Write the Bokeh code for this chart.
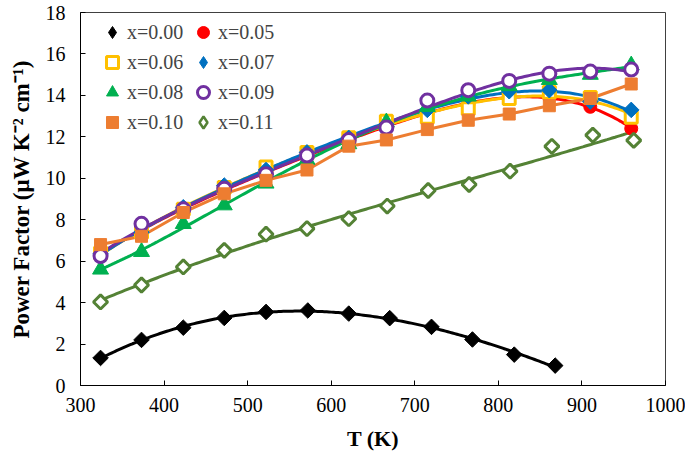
import numpy as np
from bokeh.plotting import figure
from bokeh.models import Range1d, FixedTicker, Legend, LegendItem
from bokeh.embed import file_html
from bokeh.resources import INLINE

# ---- data ----
T_000 = [324, 373, 423, 472, 522, 572, 621, 670, 720, 769, 819, 868]
pf_000 = [1.33, 2.20, 2.79, 3.26, 3.55, 3.62, 3.47, 3.25, 2.83, 2.22, 1.49, 0.96]

T_up = [324, 373, 423, 472, 522, 571, 621, 666, 715, 764, 813, 861, 910, 959]
pf_005 = [6.35, 7.50, 8.45, 9.45, 10.30, 11.15, 11.85, 12.50, 13.10, 13.55, 13.95, 13.90, 13.45, 12.40]
pf_006 = [6.40, 7.40, 8.50, 9.55, 10.55, 11.25, 11.95, 12.75, 12.95, 13.35, 13.85, 14.15, 13.90, 12.95]
pf_007 = [6.35, 7.40, 8.60, 9.65, 10.40, 11.25, 11.95, 12.60, 13.30, 13.95, 14.20, 14.25, 13.70, 13.30]
pf_008 = [5.60, 6.45, 7.80, 8.70, 9.75, 10.90, 11.65, 12.70, 13.45, 13.95, 14.45, 14.75, 15.00, 15.45]
pf_009 = [6.25, 7.80, 8.50, 9.50, 10.20, 11.10, 11.85, 12.45, 13.75, 14.25, 14.70, 15.05, 15.15, 15.25]
pf_010 = [6.80, 7.20, 8.35, 9.25, 9.90, 10.40, 11.55, 11.85, 12.35, 12.80, 13.10, 13.50, 13.85, 14.55]

T_011 = [324, 373, 423, 472, 522, 571, 621, 667, 716, 765, 814, 864, 913, 962]
pf_011 = [4.03, 4.85, 5.72, 6.52, 7.30, 7.57, 8.05, 8.66, 9.41, 9.70, 10.34, 11.54, 12.08, 11.83]

labels = ["x=0.00", "x=0.05", "x=0.06", "x=0.07", "x=0.08", "x=0.09", "x=0.10", "x=0.11"]
x_ticks = [300, 400, 500, 600, 700, 800, 900, 1000]
y_ticks = [0, 2, 4, 6, 8, 10, 12, 14, 16, 18]

FONT = "Liberation Serif"

p = figure(width=685, height=453, output_backend="svg", toolbar_location=None,
           x_range=Range1d(300, 1000), y_range=Range1d(0, 18),
           min_border_left=80, min_border_right=20, min_border_top=12, min_border_bottom=66)
p.xgrid.visible = False
p.ygrid.visible = False
p.outline_line_color = "#404040"
p.outline_line_width = 1
p.background_fill_color = "white"

for ax, ticks in ((p.xaxis, x_ticks), (p.yaxis, y_ticks)):
    ax.ticker = FixedTicker(ticks=ticks)
    ax.minor_tick_line_color = None
    ax.major_tick_in = 5
    ax.major_tick_out = 0
    ax.axis_line_color = "black"
    ax.major_tick_line_color = "black"
    ax.major_label_text_font = FONT
    ax.major_label_text_font_size = "20px"
    ax.major_label_text_color = "black"
    ax.axis_label_text_font = FONT
    ax.axis_label_text_font_size = "22px"
    ax.axis_label_text_font_style = "bold"
    ax.axis_label_text_color = "black"

p.yaxis.axis_label_text_font_size = "23px"
p.xaxis.axis_label = "T (K)"
p.yaxis.axis_label = "Power Factor (\u03bcW K\u207b\u00b2 cm\u207b\u00b9)"
p.xaxis.major_label_standoff = 12
p.yaxis.major_label_standoff = 15
p.xaxis.axis_label_standoff = 11
p.yaxis.axis_label_standoff = 9


def trend(T, y, deg):
    t = np.asarray(T, float)
    c = np.polyfit((t - 600) / 300, np.asarray(y, float), deg)
    tt = np.linspace(t[0], t[-1], 200)
    return tt, np.polyval(c, (tt - 600) / 300)


# (T, values, colour, marker, fill, size, angle, trend degree)
series = [
    (T_000, pf_000, "black", "square", "black", 11, np.pi / 4, 3),
    (T_up, pf_005, "#FF0000", "circle", "#FF0000", 13, 0, 4),
    (T_up, pf_006, "#FFC000", "square", "white", 12, 0, 4),
    (T_up, pf_007, "#0070C0", "square", "#0070C0", 11, np.pi / 4, 4),
    (T_up, pf_008, "#00B050", "triangle", "#00B050", 16, 0, 4),
    (T_up, pf_009, "#7030A0", "circle", "white", 13, 0, 4),
    (T_up, pf_010, "#ED7D31", "square", "#ED7D31", 12, 0, 0),
    (T_011, pf_011, "#548235", "square", "white", 10, np.pi / 4, 3),
]

for T, y, col, mk, fill, sz, ang, deg in series:
    if deg == 0:
        p.line(T, y, line_color=col, line_width=3)
    else:
        tt, yy = trend(T, y, deg)
        p.line(tt, yy, line_color=col, line_width=3)

items = {}
for (T, y, col, mk, fill, sz, ang, deg), lab in zip(series, labels):
    lw = 2.5 if fill == "white" else 1
    sw = None
    if ang != 0:
        # plain diamond, hidden under the rotated square, used as the legend swatch
        sw = p.scatter(T, y, marker="diamond", size=sz * 0.9, line_color=col,
                       fill_color=fill, line_width=lw)
    r = p.scatter(T, y, marker=mk, size=sz, angle=ang, line_color=col, fill_color=fill,
                  line_width=3 if fill == "white" else 1)
    items[lab] = LegendItem(label=lab, renderers=[sw if sw is not None else r])

# legend fills column by column: left column then right column
order = ["x=0.00", "x=0.06", "x=0.08", "x=0.10", "x=0.05", "x=0.07", "x=0.09", "x=0.11"]
legend = Legend(items=[items[k] for k in order], ncols=2, location=(17, 248),
                glyph_width=30, glyph_height=30, spacing=0, padding=4, margin=0,
                label_width=61,
                label_text_font=FONT, label_text_font_size="20px",
                label_standoff=-3, border_line_color=None, background_fill_alpha=0)
p.add_layout(legend, "center")

open("out.html", "w").write(file_html(p, INLINE))
